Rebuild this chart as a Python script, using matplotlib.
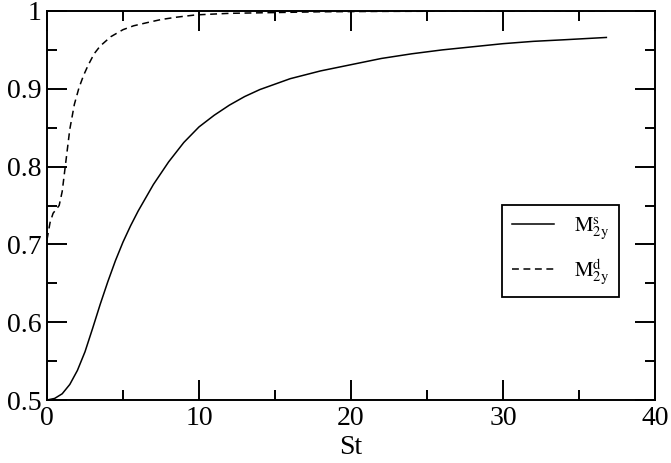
import matplotlib
matplotlib.use("Agg")
import matplotlib.pyplot as plt
from matplotlib.ticker import MultipleLocator, FormatStrFormatter

plt.rcParams["font.family"] = "Liberation Serif"
plt.rcParams["mathtext.fontset"] = "stix"

# M_2y^s (solid)
st_s = [0, 0.5, 1, 1.5, 2, 2.5, 3, 3.5, 4, 4.5, 5, 5.5, 6, 7, 8, 9, 10, 11, 12, 13, 14, 16,
        18, 20, 22, 24, 26, 28, 30, 32, 34, 36.8]
m_s = [0.5, 0.502, 0.508, 0.52, 0.538, 0.562, 0.592, 0.623, 0.652, 0.679, 0.703, 0.724,
       0.743, 0.777, 0.806, 0.831, 0.851, 0.866, 0.879, 0.89, 0.899, 0.913, 0.923, 0.931,
       0.939, 0.945, 0.95, 0.954, 0.958, 0.961, 0.963, 0.966]

# M_2y^d (dashed)
st_d = [0, 0.2, 0.4, 0.6, 0.8, 1.0, 1.2, 1.5, 1.8, 2.1, 2.4, 2.7, 3.1, 3.5, 4.2, 5.0, 5.7,
        6.8, 7.5, 8.5, 9.8, 12, 15, 18, 22, 27, 32, 36.8]
m_d = [0.706, 0.728, 0.74, 0.745, 0.75, 0.768, 0.80, 0.848, 0.88, 0.901, 0.917, 0.93,
       0.945, 0.955, 0.967, 0.976, 0.981, 0.986, 0.989, 0.992, 0.995, 0.997, 0.998,
       0.999, 0.9995, 0.9998, 0.9999, 1.0]

fig = plt.figure(figsize=(6.71, 4.63), dpi=100)
ax = fig.add_axes([47/671, 1-400/463, 608/671, 389/463])

ax.plot(st_s, m_s, color="black", lw=1.1, label=r"$\mathrm{M}^{\mathrm{s}}_{\mathrm{2y}}$")
ax.plot(st_d, m_d, color="black", lw=1.1, linestyle=(0, (4.5, 3)),
        label=r"$\mathrm{M}^{\mathrm{d}}_{\mathrm{2y}}$")

ax.set_xlim(0, 40)
ax.set_ylim(0.5, 1)
ax.xaxis.set_major_locator(MultipleLocator(10))
ax.xaxis.set_minor_locator(MultipleLocator(5))
ax.yaxis.set_major_locator(MultipleLocator(0.1))
ax.yaxis.set_minor_locator(MultipleLocator(0.05))
ax.xaxis.set_major_formatter(FormatStrFormatter("%g"))
ax.yaxis.set_major_formatter(FormatStrFormatter("%g"))
ax.tick_params(which="both", direction="in", top=True, right=True, width=1.4, labelsize=20)
ax.tick_params(which="major", length=14.5, pad=4)
ax.tick_params(which="minor", length=7.2)
for s in ax.spines.values():
    s.set_linewidth(1.4)

ax.set_xlabel("St", fontsize=20, labelpad=3)

leg = ax.legend(loc="upper left", bbox_to_anchor=(0.748, 0.501), borderaxespad=0,
                fontsize=15, fancybox=False, frameon=True, edgecolor="black",
                handlelength=2.0, handletextpad=0.95, labelspacing=0.7, borderpad=0.5)
leg.get_frame().set_linewidth(1.3)
leg.get_frame().set_alpha(None)

fig.savefig("out.png", dpi=100)
